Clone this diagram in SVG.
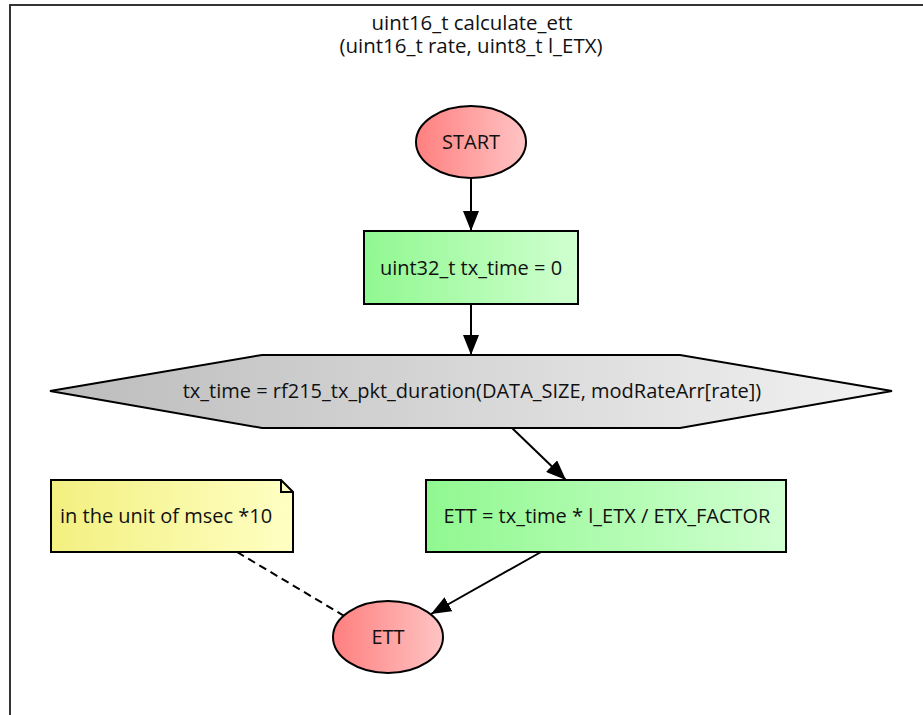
<svg xmlns="http://www.w3.org/2000/svg" width="923" height="715" viewBox="0 0 923 715">
<style>
text{font-family:"Open Sans","Noto Sans","DejaVu Sans",sans-serif;font-size:20px;fill:#111;}
.c{text-anchor:middle;}
.t{font-size:19.5px;}
.sh{stroke:#000;stroke-width:2;}
.e{stroke:#000;stroke-width:2;fill:none;}
</style>
<defs>
<linearGradient id="gr"><stop offset="0" stop-color="#ff7f7f"/><stop offset="1" stop-color="#ffc4c4"/></linearGradient>
<linearGradient id="gg"><stop offset="0" stop-color="#90f890"/><stop offset="1" stop-color="#d0ffd0"/></linearGradient>
<linearGradient id="gx"><stop offset="0" stop-color="#bcbcbc"/><stop offset="1" stop-color="#f2f2f2"/></linearGradient>
<linearGradient id="gy"><stop offset="0" stop-color="#f2f080"/><stop offset="1" stop-color="#ffffc4"/></linearGradient>
<marker id="ah" viewBox="0 0 20 16" refX="20" refY="8" markerWidth="20" markerHeight="16" markerUnits="userSpaceOnUse" orient="auto"><path d="M0,0 L20,8 L0,16 z" fill="#000"/></marker>
</defs>
<rect x="10" y="5" width="930" height="720" fill="#fff" stroke="#333" stroke-width="2"/>
<text class="c t" x="472" y="30" textLength="201" lengthAdjust="spacingAndGlyphs">uint16_t calculate_ett</text>
<text class="c t" x="471" y="53" textLength="263" lengthAdjust="spacingAndGlyphs">(uint16_t rate, uint8_t l_ETX)</text>
<g id="connectors">
<line class="e" x1="471" y1="178" x2="471" y2="231" marker-end="url(#ah)"/>
<line class="e" x1="471" y1="304" x2="471" y2="355" marker-end="url(#ah)"/>
<line class="e" x1="512" y1="428" x2="566" y2="480" marker-end="url(#ah)"/>
<line class="e" x1="541" y1="552" x2="431" y2="614" marker-end="url(#ah)"/>
<line class="e" x1="237" y1="552" x2="346" y2="617" stroke-dasharray="8,5"/>
</g>
<g id="start"><ellipse class="sh" cx="471" cy="142" rx="55" ry="36" fill="url(#gr)"/><text class="c" x="471" y="149">START</text></g>
<g id="init"><rect class="sh" x="364" y="231" width="214" height="73" fill="url(#gg)"/><text class="c" x="471" y="275">uint32_t tx_time = 0</text></g>
<g id="calc"><polygon class="sh" points="50,391 262,355 680,355 892,391 680,428 262,428" fill="url(#gx)"/><text class="c" x="472" y="398">tx_time = rf215_tx_pkt_duration(DATA_SIZE, modRateArr[rate])</text></g>
<g id="ett_assign"><rect class="sh" x="426" y="480" width="360" height="72" fill="url(#gg)"/><text class="c" x="607" y="523">ETT = tx_time * l_ETX / ETX_FACTOR</text></g>
<g id="note"><path class="sh" d="M51,480 H281 L293,492 V552 H51 Z" fill="url(#gy)"/><path class="e" d="M281,480 V492 H293" stroke-width="1.2"/><text x="60" y="523">in the unit of msec *10</text></g>
<g id="ett"><ellipse class="sh" cx="388" cy="637" rx="55" ry="36" fill="url(#gr)"/><text class="c" x="388" y="644">ETT</text></g>
</svg>
